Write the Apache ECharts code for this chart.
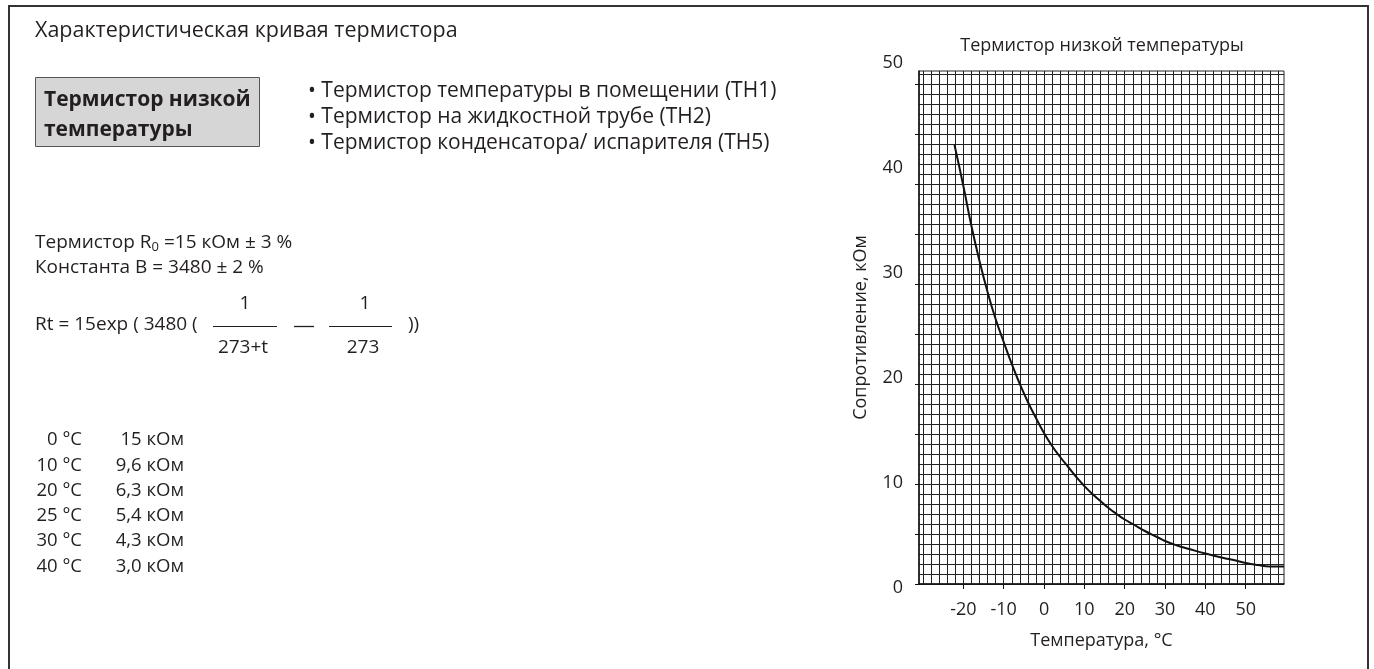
<!DOCTYPE html>
<html>
<head>
<meta charset="utf-8">
<script src="https://cdn.jsdelivr.net/npm/echarts@6/dist/echarts.min.js"></script>
<style>
html,body{margin:0;padding:0;background:#fff;}
#chart{width:1374px;height:669px;}
</style>
</head>
<body>
<div id="chart"></div>
<script>
// ---- data ----
const temps = [-22.2, -20, -18, -16, -14, -12, -10, -8, -6, -4, -2, 0, 2, 4, 6, 8, 10, 12, 14, 16, 18, 20, 22, 25, 28, 30, 33, 36, 40, 44, 48, 50, 53, 56, 59.5];
const resist = [43.9, 39.8, 35.8, 32.3, 29.2, 26.5, 24.2, 22.0, 20.0, 18.2, 16.6, 15.1, 13.8, 12.7, 11.7, 10.7, 9.8, 9.0, 8.3, 7.6, 7.0, 6.45, 6.0, 5.3, 4.7, 4.3, 3.85, 3.5, 3.05, 2.65, 2.3, 2.1, 1.9, 1.76, 1.75];

const xTickLabels = [-20, -10, 0, 10, 20, 30, 40, 50];
const yTickLabels = [0, 10, 20, 30, 40, 50];
const yMajorTicks = [0, 5, 10, 15, 20, 25, 30, 35, 40, 45, 50];

const pageTitle = 'Характеристическая кривая термистора';
const boxLines = ['Термистор низкой', 'температуры'];
const bullets = [
  '• Термистор температуры в помещении (TH1)',
  '• Термистор на жидкостной трубе (TH2)',
  '• Термистор конденсатора/ испарителя (TH5)'
];
const tableTemps = ['0 °C', '10 °C', '20 °C', '25 °C', '30 °C', '40 °C'];
const tableValues = ['15 кОм', '9,6 кОм', '6,3 кОм', '5,4 кОм', '4,3 кОм', '3,0 кОм'];
const chartTitle = 'Термистор низкой температуры';
const xName = 'Температура, °C';
const yName = 'Сопротивление, кОм';

// fine grid values
const xFine = [];
for (let v = -30; v <= 58; v += 2) xFine.push(v);
const yFine = [];
for (let v = 0; v <= 51; v += 1) yFine.push(v);

const FONT = '"Open Sans", "Noto Sans", sans-serif';
const TXT = '#231f20';

function txt(x, y, text, size, opts) {
  opts = opts || {};
  return {
    type: 'text', x: x, y: y, z: 10,
    style: Object.assign({
      text: text, fontSize: size, fontFamily: FONT, fill: TXT,
      align: opts.align || 'left', verticalAlign: 'middle',
      textAlign: opts.align || 'left', textVerticalAlign: 'middle',
      fontWeight: opts.weight || 'normal'
    }, opts.extra || {})
  };
}

const graphics = [
  { type: 'rect', shape: { x: 9, y: 6, width: 1359, height: 700 }, style: { fill: 'none', stroke: '#333', lineWidth: 2 }, z: 1 },
  txt(35, 31, pageTitle, 21.5),
  { type: 'rect', shape: { x: 35.5, y: 77.5, width: 224, height: 69 }, style: { fill: '#d6d6d6', stroke: '#555', lineWidth: 1 }, z: 2 },
  txt(44, 100, boxLines[0], 21, { weight: 'bold' }),
  txt(44, 130, boxLines[1], 21, { weight: 'bold' }),
  txt(308, 91, bullets[0], 21),
  txt(308, 117, bullets[1], 21),
  txt(308, 143, bullets[2], 21),
  { type: 'text', x: 35, y: 243, z: 10, style: {
      text: 'Термистор R{s|0} =15 кОм ± 3 %', fontSize: 19, fontFamily: FONT, fill: TXT,
      align: 'left', verticalAlign: 'middle', textAlign: 'left', textVerticalAlign: 'middle',
      rich: { s: { fontSize: 13, fontFamily: FONT, fill: TXT, padding: [9, 0, 0, 0] } }
  } },
  txt(35, 268, 'Константа B = 3480 ± 2 %', 19),
  txt(35, 325, 'Rt = 15exp ( 3480 (', 19),
  txt(245, 304, '1', 19, { align: 'center' }),
  txt(243, 348, '273+t', 19, { align: 'center' }),
  { type: 'line', shape: { x1: 213, y1: 326.5, x2: 277, y2: 326.5 }, style: { stroke: TXT, lineWidth: 1 }, z: 10 },
  { type: 'line', shape: { x1: 294, y1: 326.5, x2: 314, y2: 326.5 }, style: { stroke: TXT, lineWidth: 1.3 }, z: 10 },
  txt(365, 304, '1', 19, { align: 'center' }),
  txt(363, 348, '273', 19, { align: 'center' }),
  { type: 'line', shape: { x1: 329, y1: 326.5, x2: 392, y2: 326.5 }, style: { stroke: TXT, lineWidth: 1 }, z: 10 },
  txt(408, 325, '))', 19),
  txt(1102, 46, chartTitle, 18, { align: 'center' })
];
tableTemps.forEach(function (t, i) {
  graphics.push(txt(82, 440 + i * 25.3, t, 18.5, { align: 'right' }));
  graphics.push(txt(184, 440 + i * 25.3, tableValues[i], 18.5, { align: 'right' }));
});

const GRIDC = '#222';
const option = {
  animation: false,
  backgroundColor: '#fff',
  textStyle: { fontFamily: FONT },
  graphic: graphics,
  grid: [
    { left: 919, right: 90, top: 71, bottom: 85, show: true, borderColor: '#222', borderWidth: 1, backgroundColor: 'transparent' },
    { left: 919, right: 90, top: 63, bottom: 81, show: false }
  ],
  xAxis: [
    {
      type: 'value', gridIndex: 0, min: -31, max: 59.5, position: 'bottom',
      name: xName, nameLocation: 'middle', nameGap: 48,
      nameTextStyle: { fontSize: 18, color: TXT, fontFamily: FONT },
      axisLine: { show: true, onZero: false, lineStyle: { color: '#111', width: 1.5 } },
      axisTick: { show: true, inside: false, length: 5, customValues: xTickLabels, lineStyle: { color: '#111' } },
      axisLabel: { show: true, customValues: xTickLabels, fontSize: 18, color: TXT, margin: 17, fontFamily: FONT },
      splitLine: { show: false }
    },
    {
      type: 'value', gridIndex: 0, min: -31, max: 59.5, position: 'top',
      axisLine: { show: false }, axisLabel: { show: false },
      axisTick: { show: false, customValues: xFine },
      splitLine: { show: true, lineStyle: { color: GRIDC, width: 1 } }
    },
    { type: 'value', gridIndex: 1, min: 0, max: 1, show: false }
  ],
  yAxis: [
    {
      type: 'value', gridIndex: 0, min: 0, max: 51.3, position: 'left',
      name: yName, nameLocation: 'middle', nameGap: 49,
      nameTextStyle: { fontSize: 18, color: TXT, fontFamily: FONT },
      axisLine: { show: true, onZero: false, lineStyle: { color: '#111', width: 1.5 } },
      axisTick: { show: true, length: 4, customValues: yMajorTicks, lineStyle: { color: '#111' } },
      axisLabel: { show: false },
      splitLine: { show: false }
    },
    {
      type: 'value', gridIndex: 0, min: 0, max: 51.3, position: 'right',
      axisLine: { show: false }, axisLabel: { show: false },
      axisTick: { show: false, customValues: yFine },
      splitLine: { show: true, lineStyle: { color: GRIDC, width: 1 } }
    },
    {
      type: 'value', gridIndex: 1, min: 0, max: 50, interval: 10,
      axisLine: { show: false }, axisTick: { show: false }, splitLine: { show: false },
      axisLabel: { show: true, fontSize: 18, color: TXT, margin: 16, fontFamily: FONT,
        customValues: yTickLabels }
    }
  ],
  series: [
    {
      type: 'line', xAxisIndex: 0, yAxisIndex: 0, smooth: true, symbol: 'none',
      data: temps.map(function (t, i) { return [t, resist[i]]; }),
      lineStyle: { color: '#111', width: 2 }, z: 5
    }
  ]
};

const chart = echarts.init(document.getElementById('chart'), null, { renderer: 'canvas' });
chart.setOption(option);
</script>
</body>
</html>
